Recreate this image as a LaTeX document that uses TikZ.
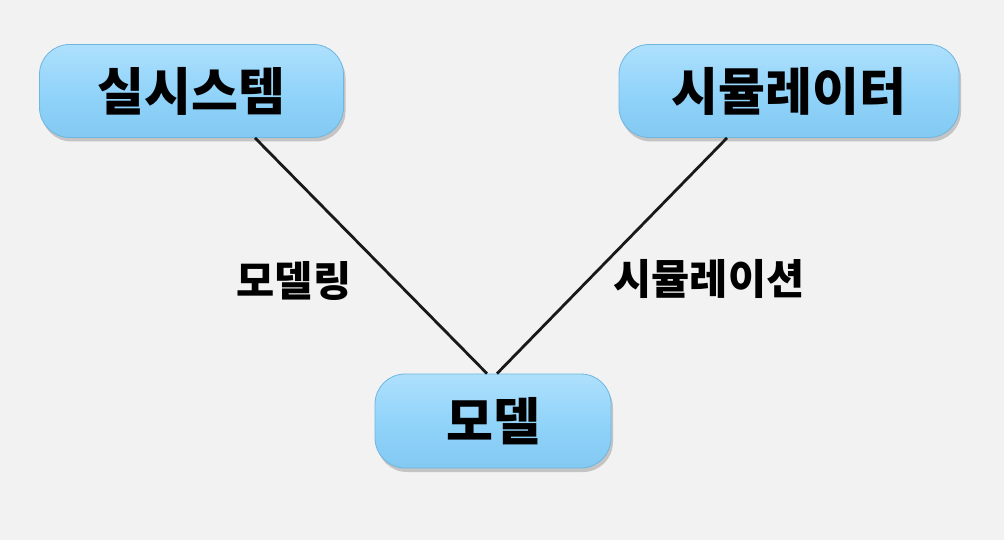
\documentclass[tikz,border=0pt]{standalone}
\usepackage{fontspec}
\setmainfont{Noto Sans CJK KR}
\usetikzlibrary{shadows,calc}
\definecolor{bg}{HTML}{F2F2F2}
\definecolor{boxtop}{HTML}{AEE0FC}
\definecolor{boxmid}{HTML}{92D4FA}
\definecolor{boxbot}{HTML}{82C9F2}
\definecolor{boxedge}{HTML}{6FB6E0}
\tikzset{
  box/.style={rounded corners=30pt, draw=boxedge, line width=0.8pt,
    top color=boxtop, bottom color=boxbot, middle color=boxmid,
    drop shadow={shadow xshift=2pt, shadow yshift=-4pt, fill=black!45, opacity=0.45},
    inner sep=0pt, font=\bfseries\fontsize{51}{56}\selectfont},
  link/.style={line width=2.8pt, black!90},
  lbl/.style={font=\bfseries\fontsize{41.5}{46}\selectfont, inner sep=0pt}
}
\begin{document}
\begin{tikzpicture}[x=1pt,y=-1pt]
\path[fill=bg] (0,0) rectangle (1004,540);
\useasboundingbox (0,0) rectangle (1004,540);
\node[box, minimum width=304pt, minimum height=93pt] (real) at (191.5,91) {실시스템};
\node[box, minimum width=340pt, minimum height=93pt] (sim) at (789,91) {시뮬레이터};
\node[box, minimum width=236pt, minimum height=94pt] (model) at (493,421) {모델};
\coordinate (a1) at ([xshift=63.5pt]real.south);
\coordinate (a2) at ([xshift=-6pt]model.north);
\coordinate (b1) at ([xshift=-62pt]sim.south);
\coordinate (b2) at ([xshift=4pt]model.north);
\draw[link] (a1) -- (a2);
\draw[link] (b1) -- (b2);
\node[lbl] (l1) at (294,281) {모델링};
\node[lbl] (l2) at (709,279) {시뮬레이션};
\end{tikzpicture}
\end{document}
